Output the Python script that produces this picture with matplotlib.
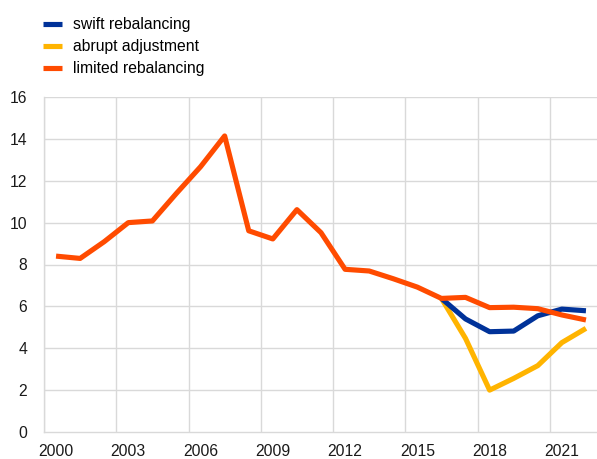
import numpy as np
import matplotlib.pyplot as plt

plt.rcParams['font.family'] = ['Liberation Sans', 'DejaVu Sans']

# ======================================================
# data
# ======================================================
years = list(range(2000, 2023))
limited = [8.40, 8.29, 9.09, 10.00, 10.08, 11.40, 12.67, 14.14, 9.61, 9.22,
           10.62, 9.52, 7.77, 7.69, 7.32, 6.92, 6.38, 6.43, 5.94, 5.96,
           5.89, 5.59, 5.35]
swift = [6.38, 5.40, 4.79, 4.82, 5.55, 5.87, 5.79]
abrupt = [6.38, 4.47, 2.00, 2.56, 3.17, 4.27, 4.95]
scen_start = 2016

tick_years = [2000, 2003, 2006, 2009, 2012, 2015, 2018, 2021]

c_blue = '#003299'
c_yellow = '#ffb400'
c_orange = '#ff4b00'
grid_c = '#d9d9d9'

# ======================================================
# plot
# ======================================================
fig = plt.figure(figsize=(5.97, 4.59), dpi=100)
ax = fig.add_axes([44 / 597, 27 / 459, 554 / 597, 335 / 459])

x_all = np.arange(len(years))
i0 = years.index(scen_start)
x_scen = np.arange(i0, i0 + len(swift))

lw = 3.7
l_y, = ax.plot(x_scen, abrupt, color=c_yellow, lw=lw, solid_capstyle='butt')
l_b, = ax.plot(x_scen, swift, color=c_blue, lw=lw, solid_capstyle='butt')
l_o, = ax.plot(x_all, limited, color=c_orange, lw=lw, solid_capstyle='butt')

ax.set_xlim(-0.5, len(years) - 0.5)
ax.set_ylim(0, 16)
ax.set_yticks(np.arange(0, 17, 2))
ax.set_xticks([years.index(y) for y in tick_years])
ax.set_xticklabels([str(y) for y in tick_years])

# gridlines at category boundaries
for xg in np.arange(-0.5, len(years) - 1, 3):
    ax.axvline(xg, color=grid_c, lw=1.0, zorder=0)
for yg in np.arange(2, 17, 2):
    ax.axhline(yg, color=grid_c, lw=1.0, zorder=0)

for s in ['top', 'right']:
    ax.spines[s].set_visible(False)
for s in ['left', 'bottom']:
    ax.spines[s].set_color(grid_c)
    ax.spines[s].set_linewidth(1.0)

ax.tick_params(axis='both', length=0, labelsize=11.3, colors='#1a1a1a')
ax.tick_params(axis='x', pad=9)
ax.tick_params(axis='y', pad=12)

fig.legend([l_b, l_y, l_o],
           ['swift rebalancing', 'abrupt adjustment', 'limited rebalancing'],
           loc='upper left', bbox_to_anchor=(37 / 597, 1 - 11 / 459),
           frameon=False, fontsize=11.3, handlelength=1.2, handletextpad=0.7,
           labelspacing=0.45, borderaxespad=0)

fig.savefig('out.png', dpi=100)
